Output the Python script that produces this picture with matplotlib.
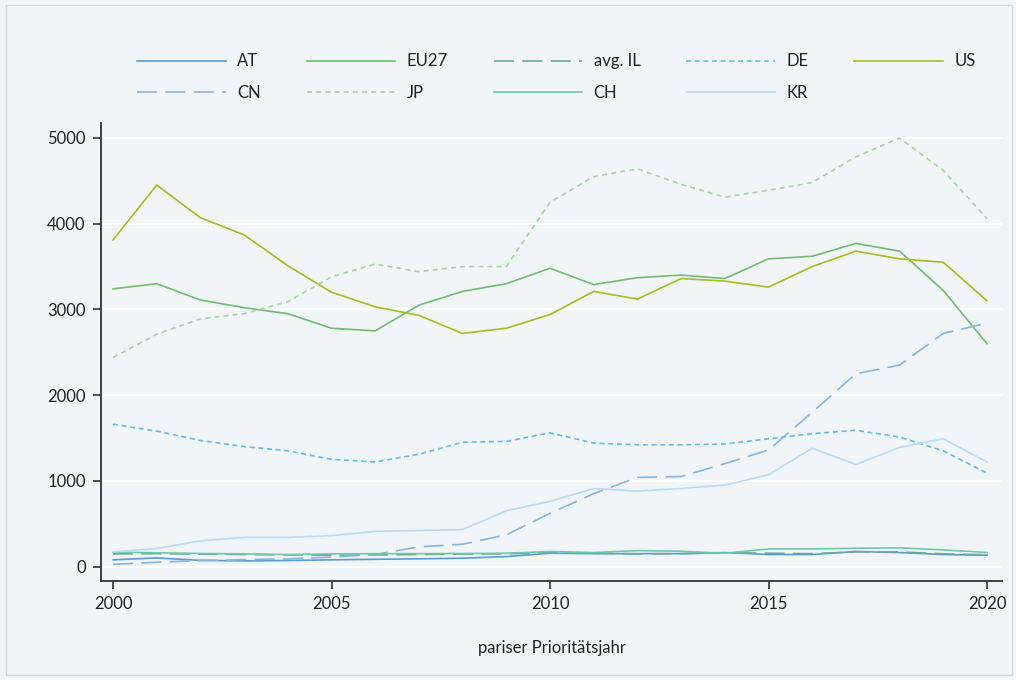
import numpy as np
import matplotlib
matplotlib.use('Agg')
import matplotlib.pyplot as plt
from matplotlib.patches import Rectangle

plt.rcParams['font.family'] = ['Lato', 'DejaVu Sans']

years = list(range(2000, 2021))

at = [78, 100, 72, 66, 70, 78, 84, 90, 97, 116, 155, 150, 150, 150, 163, 140, 140, 175, 163, 140, 132]
eu27 = [3240, 3300, 3110, 3020, 2950, 2780, 2750, 3050, 3210, 3300, 3480, 3290, 3370, 3400, 3360,
        3590, 3620, 3770, 3680, 3220, 2600]
avg_il = [148, 150, 145, 140, 135, 132, 135, 140, 145, 148, 160, 155, 148, 150, 160, 155, 150, 171, 171, 148, 136]
de = [1660, 1580, 1470, 1400, 1350, 1250, 1220, 1310, 1450, 1460, 1560, 1440, 1420, 1420, 1430,
      1490, 1550, 1590, 1510, 1350, 1090]
us = [3810, 4450, 4070, 3870, 3510, 3200, 3030, 2930, 2720, 2780, 2940, 3210, 3120, 3360, 3330,
      3260, 3500, 3680, 3590, 3550, 3100]
cn = [25, 50, 70, 80, 90, 110, 140, 230, 260, 370, 620, 850, 1040, 1050, 1200, 1360, 1800, 2250,
      2350, 2720, 2840]
jp = [2440, 2710, 2890, 2950, 3090, 3380, 3530, 3440, 3500, 3500, 4250, 4550, 4640, 4460, 4310,
      4390, 4480, 4780, 5000, 4620, 4060]
ch = [167, 160, 152, 148, 140, 148, 150, 150, 152, 155, 175, 163, 186, 178, 155, 205, 205, 213,
      218, 194, 163]
kr = [170, 210, 300, 340, 340, 360, 410, 420, 430, 650, 760, 910, 880, 910, 950, 1070, 1380, 1190,
      1390, 1490, 1220]

bg = '#f2f5f7'
fig = plt.figure(figsize=(10.16, 6.8), dpi=100, facecolor=bg)
ax = fig.add_axes([101/1016, 1 - 581/680, 901/1016, (581 - 123)/680])
ax.set_facecolor(bg)

lw = 1.2
h_at, = ax.plot(years, at, color='#5a9bd5', lw=lw, label='AT')
h_eu, = ax.plot(years, eu27, color='#6fbd6f', lw=lw, label='EU27')
h_il, = ax.plot(years, avg_il, color='#6aa898', lw=lw, dashes=(12, 5), label='avg. IL')
h_de, = ax.plot(years, de, color='#5cbfe6', lw=lw, dashes=(3, 2.2), label='DE')
h_us, = ax.plot(years, us, color='#a5bd1e', lw=lw, label='US')
h_cn, = ax.plot(years, cn, color='#86b6e0', lw=lw, dashes=(12, 5), label='CN')
h_jp, = ax.plot(years, jp, color='#a3d6a3', lw=lw, dashes=(3, 2.5), label='JP')
h_ch, = ax.plot(years, ch, color='#6ccaa9', lw=lw, label='CH')
h_kr, = ax.plot(years, kr, color='#b8dcf6', lw=lw, label='KR')

ax.set_xlim(1999.725, 2020.343)
ax.set_ylim(-169, 5175)
ax.set_xticks([2000, 2005, 2010, 2015, 2020])
ax.set_yticks([0, 1000, 2000, 3000, 4000, 5000])
ax.yaxis.grid(True, color='white', lw=1.6)
ax.set_axisbelow(True)
for s in ['top', 'right']:
    ax.spines[s].set_visible(False)
for s in ['left', 'bottom']:
    ax.spines[s].set_color('#333333')
    ax.spines[s].set_linewidth(1.3)
ax.tick_params(direction='out', length=6, width=1.2, color='#333333',
               labelsize=12, labelcolor='#222222', pad=5)
ax.set_xlabel('pariser Prioritätsjahr', fontsize=12, color='#222222', labelpad=20)

order = [h_at, h_cn, h_eu, h_jp, h_il, h_ch, h_de, h_kr, h_us]
fig.legend(handles=order, labels=[h.get_label() for h in order], ncol=5,
           loc='upper left', bbox_to_anchor=(129/1016, 1 - 45/680), frameon=False,
           fontsize=12, handlelength=5.3, handletextpad=0.7, columnspacing=2.75,
           labelspacing=0.95, borderpad=0, labelcolor='#222222')

fig.patches.append(Rectangle((6/1016, 5/680), 1006/1016, 670/680, transform=fig.transFigure,
                             fill=False, edgecolor='#d2d9de', lw=1))

fig.savefig('out.png', dpi=100, facecolor=bg)
